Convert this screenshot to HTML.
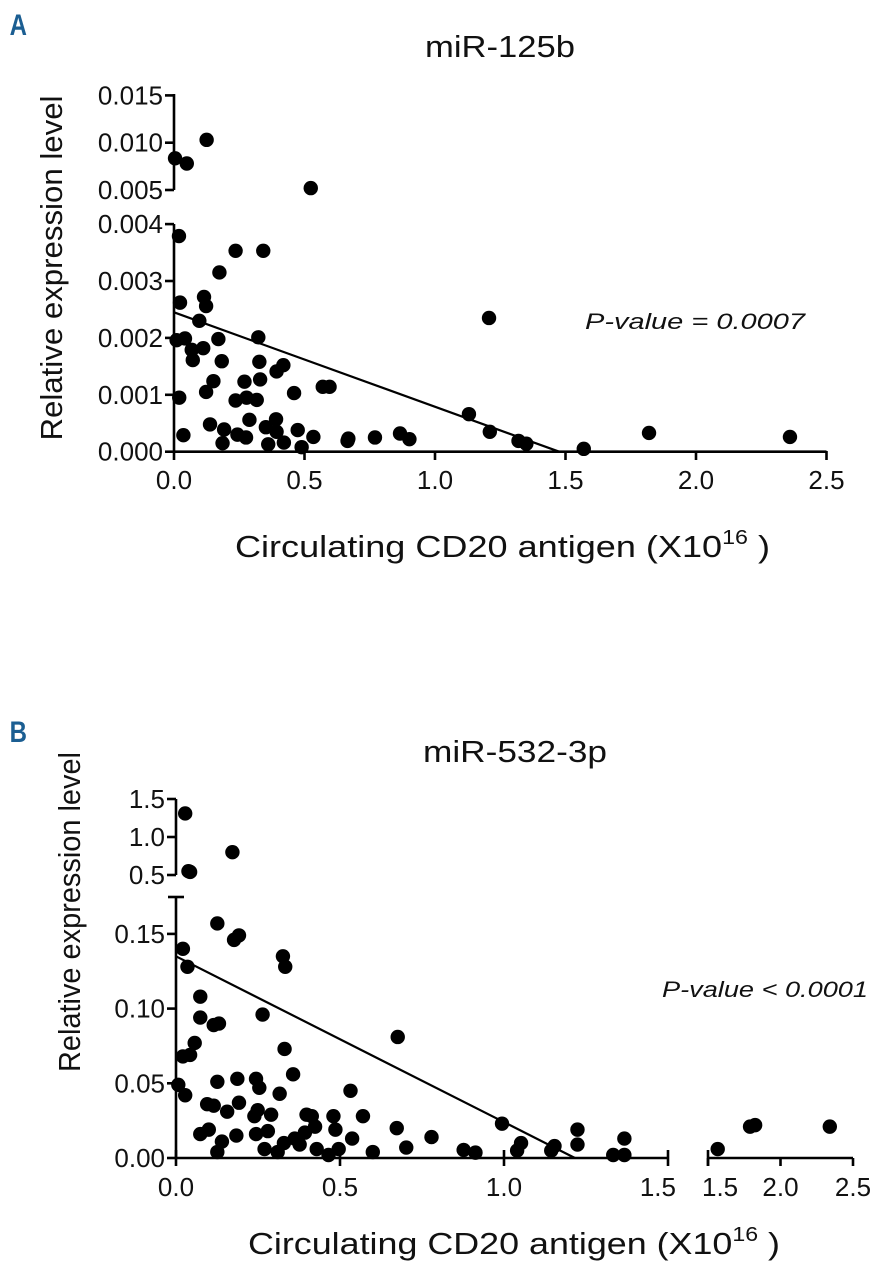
<!DOCTYPE html>
<html><head><meta charset="utf-8"><style>
body{margin:0;background:#fff;width:886px;height:1280px;overflow:hidden}
svg{display:block}
text{font-family:"Liberation Sans",Arial,sans-serif;fill:#111}
</style></head><body>
<svg id="chart" width="886" height="1280" xmlns="http://www.w3.org/2000/svg">
<text x="12" y="35" font-size="30" font-weight="bold" style="fill:#1b5e92" transform="scale(0.8,1)">A</text>
<text x="425" y="57" font-size="31" textLength="150" lengthAdjust="spacingAndGlyphs">miR-125b</text>
<text transform="translate(62,268) rotate(-90)" font-size="31" text-anchor="middle" textLength="345" lengthAdjust="spacingAndGlyphs">Relative expression level</text>
<text x="235" y="557" font-size="31" textLength="535" lengthAdjust="spacingAndGlyphs">Circulating CD20 antigen (X10<tspan dy="-13" font-size="20">16</tspan><tspan dy="13"> )</tspan></text>
<text x="585" y="329" font-size="22" font-style="italic" textLength="220" lengthAdjust="spacingAndGlyphs">P-value = 0.0007</text>
<text x="12" y="742" font-size="30" font-weight="bold" style="fill:#1b5e92" transform="scale(0.8,1)">B</text>
<text x="423" y="762" font-size="31" textLength="184" lengthAdjust="spacingAndGlyphs">miR-532-3p</text>
<text transform="translate(80,912) rotate(-90)" font-size="31" text-anchor="middle" textLength="320" lengthAdjust="spacingAndGlyphs">Relative expression level</text>
<text x="248" y="1254" font-size="31" textLength="532" lengthAdjust="spacingAndGlyphs">Circulating CD20 antigen (X10<tspan dy="-13" font-size="20">16</tspan><tspan dy="13"> )</tspan></text>
<text x="662" y="997" font-size="22" font-style="italic" textLength="206" lengthAdjust="spacingAndGlyphs">P-value &lt; 0.0001</text>
<g id="gA"></g><g id="gB"></g>
</svg>
<script>
// Panel A data
const aX = [0.004,0.049,0.125,0.524,0.019,0.023,0.01,0.042,0.02,0.036,0.115,0.123,0.097,0.068,0.112,0.072,0.17,0.174,0.236,0.342,0.183,0.151,0.123,0.138,0.192,0.186,0.236,0.27,0.278,0.317,0.289,0.243,0.276,0.323,0.327,0.33,0.393,0.419,0.46,0.391,0.352,0.393,0.361,0.421,0.474,0.489,0.534,0.57,0.596,0.665,0.668,0.77,0.866,0.902,1.207,1.13,1.21,1.32,1.35,1.57,1.82,2.36];
const aY = [0.00835,0.0078,0.0103,0.0052,0.00379,0.00262,0.00196,0.00199,0.00095,0.00029,0.00272,0.00256,0.0023,0.00179,0.00182,0.00161,0.00198,0.00315,0.00353,0.00353,0.00159,0.00124,0.00105,0.00048,0.00039,0.00015,0.0009,0.00123,0.00095,0.00091,0.00056,0.0003,0.00025,0.00201,0.00158,0.00127,0.00141,0.00152,0.00103,0.00057,0.00043,0.00035,0.00013,0.00016,0.00038,0.00008,0.00026,0.00114,0.00114,0.00019,0.00023,0.00025,0.00032,0.00022,0.00235,0.00066,0.00035,0.00019,0.00014,0.00005,0.00033,0.00026];
const aXTicks = ["0.0","0.5","1.0","1.5","2.0","2.5"];
const aYTicksLow = ["0.000","0.001","0.002","0.003","0.004"];
const aYTicksHigh = ["0.005","0.010","0.015"];
const aFit = [0.00245,-0.00166];
// Panel B data
const bX = [0.021,0.035,0.126,0.177,0.192,0.326,0.333,0.074,0.074,0.115,0.131,0.264,0.676,0.331,0.028,0.038,0.043,0.172,0.057,0.021,0.043,0.007,0.028,0.126,0.187,0.244,0.254,0.357,0.316,0.095,0.115,0.156,0.192,0.249,0.239,0.29,0.074,0.1,0.14,0.126,0.184,0.244,0.28,0.27,0.31,0.329,0.362,0.377,0.398,0.414,0.393,0.424,0.429,0.465,0.48,0.486,0.496,0.532,0.537,0.57,0.6,0.673,0.702,0.779,0.877,0.913,0.994,1.052,1.04,1.144,1.154,1.224,1.224,1.333,1.367,1.367,1.567,1.79,1.825,2.34];
const bY = [0.14,0.128,0.157,0.146,0.149,0.135,0.128,0.108,0.094,0.089,0.09,0.096,0.081,0.073,1.31,0.55,0.54,0.8,0.077,0.068,0.069,0.049,0.042,0.051,0.053,0.053,0.047,0.056,0.043,0.036,0.035,0.031,0.037,0.032,0.028,0.029,0.016,0.019,0.011,0.004,0.015,0.016,0.018,0.006,0.004,0.01,0.013,0.009,0.029,0.028,0.017,0.021,0.006,0.002,0.028,0.019,0.006,0.045,0.013,0.028,0.004,0.02,0.007,0.014,0.0054,0.0036,0.023,0.01,0.005,0.005,0.008,0.019,0.009,0.002,0.002,0.013,0.006,0.021,0.022,0.021];
const bXTicksL = ["0.0","0.5","1.0","1.5"];
const bXTicksR = ["1.5","2.0","2.5"];
const bYTicksLow = ["0.00","0.05","0.10","0.15"];
const bYTicksHigh = ["0.5","1.0","1.5"];
const bFit = [0.135,-0.111];

const NS="http://www.w3.org/2000/svg";
function mk(parent,tag,attrs){const e=document.createElementNS(NS,tag);for(const k in attrs)e.setAttribute(k,attrs[k]);parent.appendChild(e);return e;}
function line(g,x1,y1,x2,y2,w){return mk(g,'line',{x1,y1,x2,y2,stroke:'#000','stroke-width':w||2.6});}
function label(g,x,y,t,anchor){const e=mk(g,'text',{x,y,'font-size':26,'text-anchor':anchor});e.textContent=t;return e;}

// ---- Panel A
const gA=document.getElementById('gA');
const ax0=174, axPx=261;
const xA=v=>ax0+v*axPx;
const yAlow=v=>451.7-v*56900;
const yAhigh=v=>190-(v-0.005)*9460;
const yA=v=>v>0.0045?yAhigh(v):yAlow(v);
let l=line(gA,ax0,451.7,xA(2.5),451.7);


l=line(gA,ax0,224,ax0,452);


l=line(gA,ax0,94,ax0,190);


aXTicks.forEach(t=>{const x=xA(parseFloat(t));line(gA,x,451,x,460);const e=label(gA,x,489,t,'middle');

});
aYTicksLow.forEach(t=>{const y=yAlow(parseFloat(t));line(gA,ax0-9,y,ax0,y);const e=label(gA,ax0-11,y+9,t,'end');

});
aYTicksHigh.forEach(t=>{const y=yAhigh(parseFloat(t));line(gA,ax0-9,y,ax0,y);const e=label(gA,ax0-11,y+9,t,'end');

});
{const xEnd=-aFit[0]/aFit[1];l=line(gA,xA(0),yAlow(aFit[0]),xA(xEnd),yAlow(0),2.2);

}
aX.forEach((x,i)=>{const c=mk(gA,'circle',{cx:xA(x),cy:yA(aY[i]),r:7.2,fill:'#000'});

});

// ---- Panel B
const gB=document.getElementById('gB');
const bx0=176;
const xB=v=>v<=1.5?bx0+v*328:708+(v-1.5)*145;
const yBlow=v=>1158-v*1494;
const yBhigh=v=>875-(v-0.5)*76;
const yB=v=>v>0.3?yBhigh(v):yBlow(v);
l=line(gB,bx0,1158,xB(1.5),1158);


l=line(gB,708,1158,xB(2.5),1158);


line(gB,708,1150,708,1166);
l=line(gB,bx0,897,bx0,1159);


line(gB,bx0-8,897,bx0+8,897);
l=line(gB,bx0,799,bx0,875);


bXTicksL.forEach(t=>{const x=xB(parseFloat(t));line(gB,x,1150,x,1166);const e=label(gB,x,1196,t,t==='1.5'?'end':'middle');if(t==='1.5')e.setAttribute('x',x+8);

});
bXTicksR.forEach(t=>{const v=parseFloat(t);const x=v===1.5?708:xB(v);line(gB,x,1158,x,1166);const e=label(gB,x,1196,t,v===1.5?'start':'middle');if(v===1.5)e.setAttribute('x',x-6);

});
bYTicksLow.forEach(t=>{const y=yBlow(parseFloat(t));line(gB,bx0-9,y,bx0,y);const e=label(gB,bx0-11,y+9,t,'end');

});
bYTicksHigh.forEach(t=>{const y=yBhigh(parseFloat(t));line(gB,bx0-9,y,bx0,y);const e=label(gB,bx0-11,y+9,t,'end');

});
{const xEnd=-bFit[0]/bFit[1];l=line(gB,xB(0),yBlow(bFit[0]),xB(xEnd),yBlow(0),2.2);

}
bX.forEach((x,i)=>{const c=mk(gB,'circle',{cx:xB(x),cy:yB(bY[i]),r:7.2,fill:'#000'});

});
</script>
</body></html>
